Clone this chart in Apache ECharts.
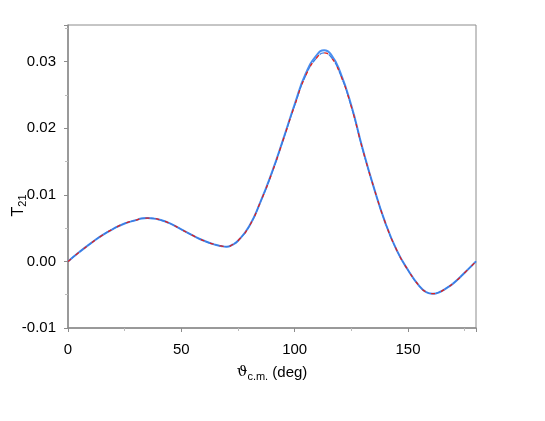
<!DOCTYPE html>
<html>
<head>
<meta charset="utf-8">
<script src="https://cdn.jsdelivr.net/npm/echarts@6/dist/echarts.min.js"></script>
<style>
  html, body { margin: 0; padding: 0; background: #fff; }
  #main { width: 545px; height: 421px; }
</style>
</head>
<body>
<div id="main"></div>
<script>
// scattering angle in degrees
var angles = [0, 5, 10, 15, 20, 25, 30, 32.5, 35, 37.5, 40, 45, 50, 55, 60, 65, 67.5, 70, 72.5, 75,
  80, 85, 90, 95, 100, 105, 110, 113, 116, 120, 125, 130, 135, 140, 145, 150, 155, 158, 161, 164,
  167, 170, 175, 180];
// T21, red dashed curve
var redVals = [0, 0.0014, 0.0027, 0.0039, 0.0049, 0.0057, 0.0062, 0.00645, 0.0065, 0.00645, 0.0063,
  0.0057, 0.0048, 0.0039, 0.0031, 0.0025, 0.00232, 0.0022, 0.0025, 0.0031,
  0.0053, 0.0090, 0.0133, 0.0183, 0.0234, 0.0280, 0.0307, 0.0313, 0.0307, 0.0282, 0.0232,
  0.0168, 0.0110, 0.0058, 0.0017, -0.0013, -0.0037, -0.0046, -0.00485, -0.0046,
  -0.0040, -0.0033, -0.0017, 0];
// T21, blue solid curve (slightly higher at the peak)
var blueVals = [0, 0.0014, 0.0027, 0.0039, 0.0049, 0.0057, 0.0062, 0.00645, 0.0065, 0.00645, 0.0063,
  0.0057, 0.0048, 0.0039, 0.0031, 0.0025, 0.00232, 0.0022, 0.0025, 0.0031,
  0.0053, 0.0090, 0.0134, 0.0184, 0.0236, 0.0283, 0.0311, 0.0317, 0.0311, 0.0285, 0.0234,
  0.0169, 0.0110, 0.0058, 0.0017, -0.0013, -0.0037, -0.0046, -0.00485, -0.0046,
  -0.0040, -0.0033, -0.0017, 0];
var yTicks = [-0.01, 0.00, 0.01, 0.02, 0.03];

function pairs(vals) {
  return angles.map(function (a, i) { return [a, vals[i]]; });
}

var chart = echarts.init(document.getElementById('main'));
var axisGrey = '#8c8c8c';
chart.setOption({
  animation: false,
  grid: {
    left: 68, right: 69, top: 25, bottom: 93,
    outerBoundsMode: 'none',
    containLabel: false,
    show: true, borderColor: axisGrey, borderWidth: 1
  },
  xAxis: {
    type: 'value',
    min: 0, max: 180, interval: 50,
    name: '{th|ϑ}{sub|c.m.}{n| (deg)}',
    nameLocation: 'middle',
    nameGap: 35,
    nameTextStyle: {
      rich: {
        th: { fontSize: 15, fontFamily: 'DejaVu Serif', color: '#000' },
        sub: { fontSize: 11, fontFamily: 'Liberation Sans', color: '#000', padding: [8, 0, 0, 0] },
        n: { fontSize: 15, fontFamily: 'Liberation Sans', color: '#000' }
      }
    },
    axisLine: { onZero: false, lineStyle: { color: axisGrey, width: 1.5 } },
    axisTick: { length: 4, lineStyle: { color: axisGrey } },
    minorTick: { show: true, splitNumber: 2, length: 3, lineStyle: { color: '#bbb' } },
    splitLine: { show: false },
    axisLabel: {
      fontSize: 15, fontFamily: 'Liberation Sans', color: '#000', margin: 14,
      showMaxLabel: false
    }
  },
  yAxis: {
    type: 'value',
    min: -0.01, max: 0.0355, interval: 0.01,
    name: '{t|T}{sub|21}',
    nameLocation: 'middle',
    nameRotate: 90,
    nameGap: 40,
    nameMoveOverlap: false,
    nameTextStyle: {
      padding: [0, 58, 0, 0],
      rich: {
        t: { fontSize: 16, fontFamily: 'Liberation Sans', color: '#000' },
        sub: { fontSize: 11, fontFamily: 'Liberation Sans', color: '#000', padding: [8, 0, 0, 0] }
      }
    },
    axisLine: { onZero: false, lineStyle: { color: axisGrey, width: 1.5 } },
    axisTick: { length: 4, lineStyle: { color: axisGrey } },
    minorTick: { show: true, splitNumber: 2, length: 3, lineStyle: { color: '#bbb' } },
    splitLine: { show: false },
    axisLabel: {
      fontSize: 15, fontFamily: 'Liberation Sans', color: '#000', margin: 12,
      showMaxLabel: false,
      formatter: function (v) {
        var hit = yTicks.some(function (t) { return Math.abs(t - v) < 1e-9; });
        return hit ? v.toFixed(2) : '';
      }
    }
  },
  series: [
    {
      type: 'line', data: pairs(blueVals), smooth: 0.5, symbol: 'none',
      lineStyle: { color: '#4a8ff0', width: 2 }, z: 2
    },
    {
      type: 'line', data: pairs(redVals), smooth: 0.5, symbol: 'none',
      lineStyle: { color: '#e0201c', width: 1.3, type: [4, 6] }, z: 3
    },
    {
      type: 'line', data: pairs(redVals), smooth: 0.5, symbol: 'none',
      lineStyle: { color: '#3a7be0', width: 1.2, type: [5, 5], dashOffset: 5 }, z: 4
    }
  ]
});
</script>
</body>
</html>
